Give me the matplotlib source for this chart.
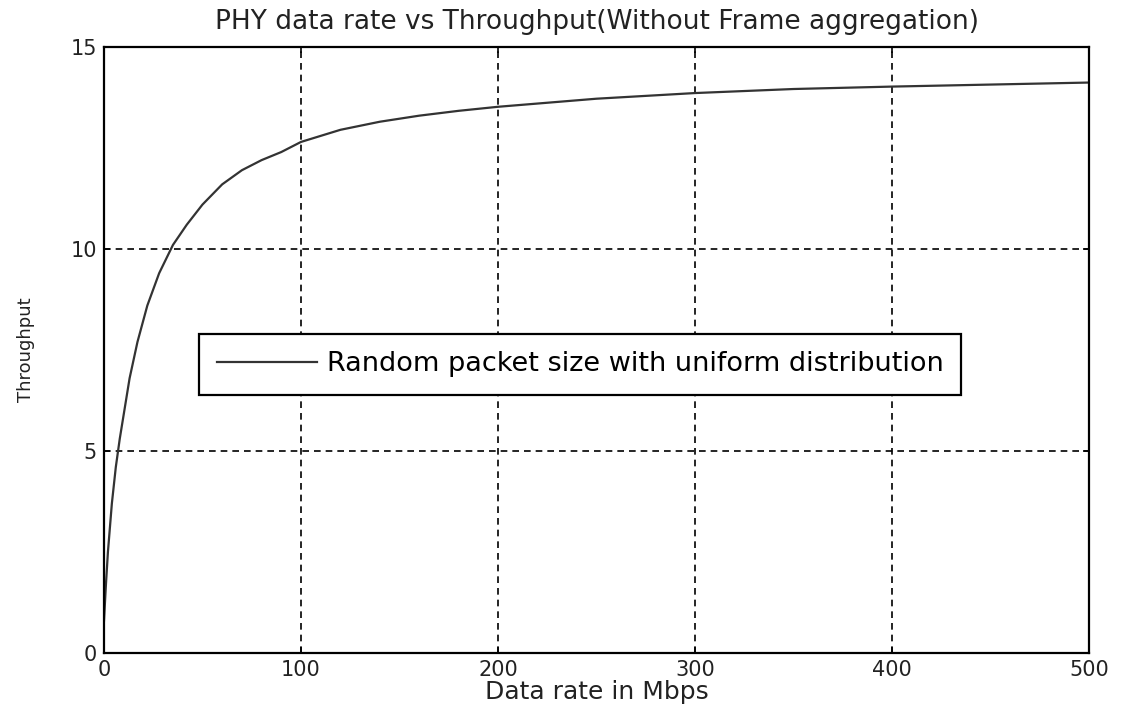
import matplotlib.pyplot as plt

# Throughput curve
rate = [0, 1, 2, 4, 6, 8, 10, 13, 17, 22, 28, 35, 42, 50, 60, 70, 80, 90, 100,
        120, 140, 160, 180, 200, 250, 300, 350, 400, 450, 500]
throughput = [0.8, 1.7, 2.5, 3.7, 4.6, 5.3, 5.9, 6.8, 7.7, 8.6, 9.4, 10.1, 10.6,
              11.1, 11.6, 11.95, 12.2, 12.4, 12.65, 12.95, 13.15, 13.3, 13.42, 13.52,
              13.72, 13.86, 13.96, 14.02, 14.07, 14.12]

x_ticks = [0, 100, 200, 300, 400, 500]
y_ticks = [0, 5, 10, 15]

plt.rcParams['font.family'] = ['DejaVu Sans']

fig = plt.figure(figsize=(11.29, 7.11), dpi=100)
ax = fig.add_axes([0.0921, 0.0816, 0.8725, 0.8523])

ax.plot(rate, throughput, color='#333333', lw=1.6,
        label='Random packet size with uniform distribution')

ax.set_xlim(0, 500)
ax.set_ylim(0, 15)
ax.set_xticks(x_ticks)
ax.set_yticks(y_ticks)
ax.tick_params(direction='in', top=True, right=True, length=4, width=1.2,
               labelsize=15, pad=5, labelcolor='#222222')
ax.grid(True, color='black', linestyle=(0, (4, 3)), linewidth=1.2)
for s in ax.spines.values():
    s.set_linewidth(1.6)

ax.set_title('PHY data rate vs Throughput(Without Frame aggregation)',
             fontsize=19, pad=13, color='#222222')
ax.set_xlabel('Data rate in Mbps', fontsize=18, labelpad=0, color='#222222')
ax.set_ylabel('Throughput', fontsize=13, color='#222222')
ax.yaxis.set_label_coords(-0.07, 0.5)

leg = ax.legend(loc='upper left', bbox_to_anchor=(0.083, 0.549), fontsize=19.5,
                frameon=True, fancybox=False, framealpha=1, edgecolor='black',
                handlelength=3.7, borderpad=0.65, handletextpad=0.35)
leg.get_frame().set_linewidth(1.6)

fig.savefig('out.png', dpi=100)
